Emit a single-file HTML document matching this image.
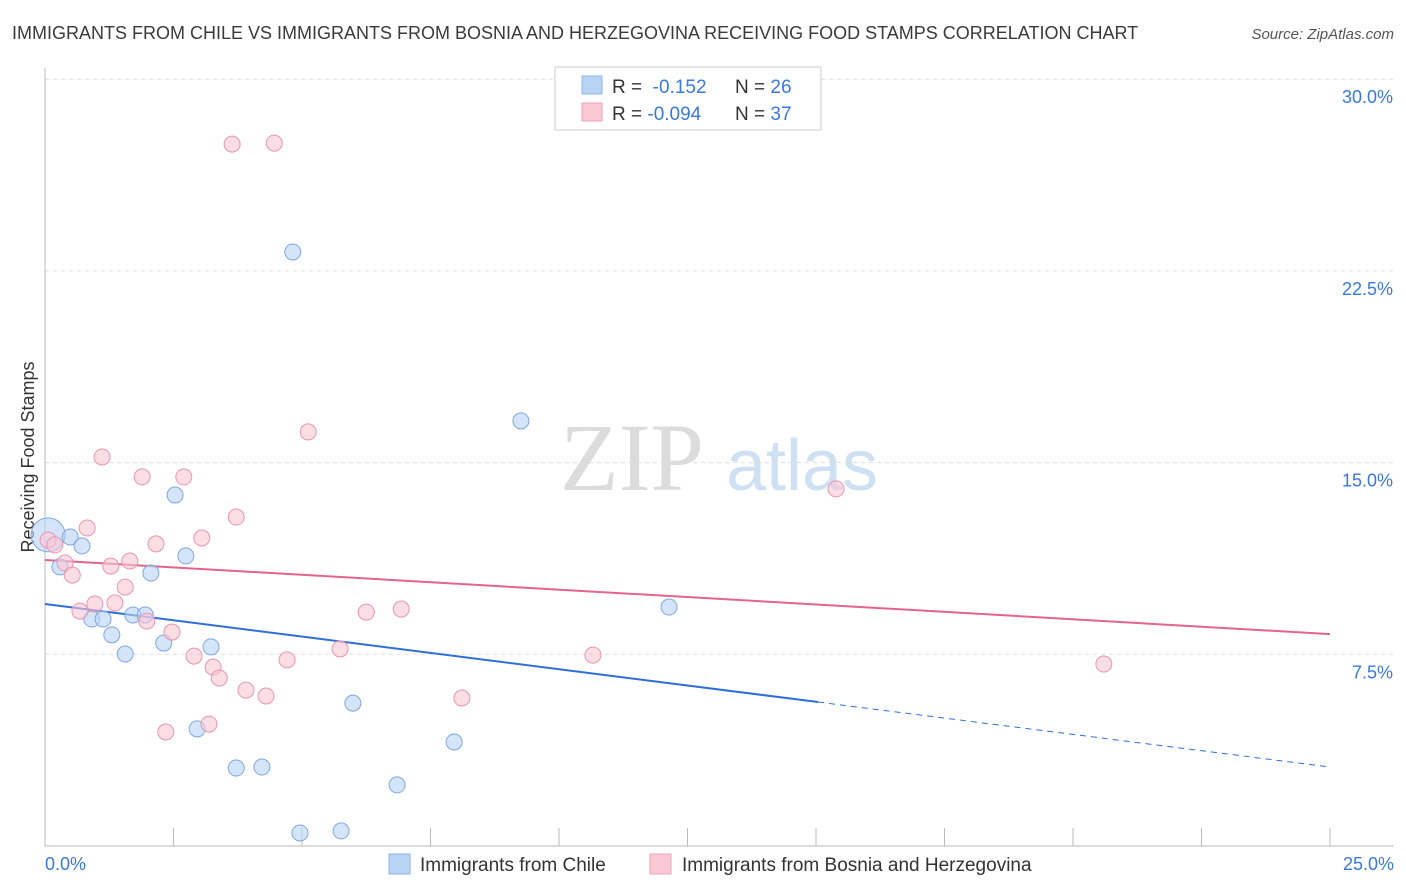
<!DOCTYPE html>
<html><head><meta charset="utf-8"><style>
body{margin:0;background:#fff;font-family:"Liberation Sans",sans-serif}
svg{display:block}
</style></head><body>
<svg id="chart" width="1406" height="892">
<text x="12" y="39" font-size="18" fill="#3a3a3a">IMMIGRANTS FROM CHILE VS IMMIGRANTS FROM BOSNIA AND HERZEGOVINA RECEIVING FOOD STAMPS CORRELATION CHART</text>
<text x="1394" y="39" font-size="15" fill="#555" text-anchor="end" font-style="italic">Source: ZipAtlas.com</text>
<g>
<text x="632" y="490" font-size="96" fill="#dcdcdc" font-family="Liberation Serif,serif" text-anchor="middle">ZIP</text>
<text x="802" y="490" font-size="72" fill="#cfe0f3" text-anchor="middle">atlas</text>
</g>
<text transform="translate(34,457) rotate(-90)" font-size="18" fill="#333" text-anchor="middle">Receiving Food Stamps</text>
<g id="grid"></g><g id="axes"></g><g id="trends"></g><g id="points"></g>
<g>
<rect x="555" y="67" width="266" height="63" fill="#fff" stroke="#ccc"/>
<rect x="582" y="76" width="20" height="18" fill="#b9d3f5" stroke="#8fb4e6"/>
<rect x="582" y="103" width="20" height="18" fill="#f9c7d6" stroke="#eea3ba"/>
<text x="612" y="93" font-size="19" fill="#333">R = <tspan fill="#3b78d8">&#160;-0.152</tspan><tspan x="735">N = </tspan><tspan fill="#3b78d8">26</tspan></text>
<text x="612" y="120" font-size="19" fill="#333">R = <tspan fill="#3b78d8">-0.094</tspan><tspan x="735">N = </tspan><tspan fill="#3b78d8">37</tspan></text>
</g>
<g>
<rect x="389" y="854" width="21" height="20" fill="#b9d3f5" stroke="#8fb4e6"/>
<text x="420" y="871" font-size="19" fill="#333">Immigrants from Chile</text>
<rect x="650" y="854" width="21" height="20" fill="#f9c7d6" stroke="#eea3ba"/>
<text x="682" y="871" font-size="19" fill="#333">Immigrants from Bosnia and Herzegovina</text>
</g>
</svg>
<script>
const xTicks=[0,25];
const yTicks=[7.5,15,22.5,30];
const yTickLabels=["7.5%","15.0%","22.5%","30.0%"];
const chileX=[0.06,0.49,0.72,0.29,0.91,1.13,1.30,1.56,2.06,1.71,1.95,2.31,2.53,2.74,3.23,2.96,3.72,4.22,4.82,4.96,5.76,5.99,6.85,7.96,9.26,12.14];
const chileY=[12.17,12.09,11.74,10.92,8.88,8.88,8.26,7.51,10.68,9.04,9.04,7.94,13.73,11.35,7.79,4.58,3.05,3.09,23.24,0.51,0.59,5.59,2.39,4.07,16.63,9.35];
const bosX=[3.64,4.46,5.12,1.11,1.89,2.70,3.72,0.82,0.06,0.19,0.39,0.53,1.28,1.65,2.16,3.05,1.56,0.97,0.68,1.36,1.98,2.47,2.90,3.27,3.39,3.91,4.30,4.71,5.74,6.25,6.93,2.35,3.19,8.11,10.66,15.39,20.60];
const bosY=[27.46,27.50,16.20,15.22,14.44,14.44,12.87,12.44,11.97,11.78,11.07,10.60,10.95,11.15,11.82,12.05,10.13,9.47,9.19,9.51,8.80,8.37,7.43,7.00,6.57,6.10,5.87,7.28,7.71,9.15,9.27,4.46,4.77,5.79,7.47,13.97,7.12];
const chileTrend=[9.47,3.09]; // y at x=0 and x=25
const chileSolidEnd=15.04;
const bosTrend=[11.19,8.29];
const NS="http://www.w3.org/2000/svg";
const X=v=>45+v/25*1285, Y=v=>846-v/7.5*191.7;
function mk(t,a,p){const e=document.createElementNS(NS,t);for(const k in a)e.setAttribute(k,a[k]);p.appendChild(e);return e;}
const grid=document.getElementById('grid'),axes=document.getElementById('axes'),tr=document.getElementById('trends'),pts=document.getElementById('points');
yTicks.forEach((t,i)=>{
 const l=mk('line',{x1:45,x2:1394,y1:Y(t),y2:Y(t),stroke:'#ddd','stroke-dasharray':'4,4'},grid);
 
 
 const tx=mk('text',{x:1393,y:Y(t)+24,'font-size':18,fill:'#3b78d8','text-anchor':'end'},axes);
 tx.textContent=yTickLabels[i];
 
 
});
mk('line',{x1:45,x2:45,y1:68,y2:846,stroke:'#bbb'},axes);
mk('line',{x1:45,x2:1394,y1:846,y2:846,stroke:'#bbb'},axes);
for(let i=0;i<=10;i++){mk('line',{x1:X(i*2.5),x2:X(i*2.5),y1:828,y2:846,stroke:'#bbb'},axes);}
xTicks.forEach((t,i)=>{
 const tx=mk('text',{x:i?1394:45,y:870,'font-size':18,fill:'#3b78d8','text-anchor':i?'end':'start'},axes);
 tx.textContent=t.toFixed(1)+'%';
 
 
});
const ty=(tv,x)=>tv[0]+(tv[1]-tv[0])*x/25;
let l1=mk('line',{x1:X(0),y1:Y(ty(chileTrend,0)),x2:X(chileSolidEnd),y2:Y(ty(chileTrend,chileSolidEnd)),stroke:'#2f6fd6','stroke-width':2},tr);


let l2=mk('line',{x1:X(chileSolidEnd),y1:Y(ty(chileTrend,chileSolidEnd)),x2:X(25),y2:Y(ty(chileTrend,25)),stroke:'#2f6fd6','stroke-width':1,'stroke-dasharray':'6,5'},tr);


let l3=mk('line',{x1:X(0),y1:Y(bosTrend[0]),x2:X(25),y2:Y(bosTrend[1]),stroke:'#e4648e','stroke-width':2},tr);


chileX.forEach((x,i)=>{
 const c=mk('circle',{cx:X(x),cy:Y(chileY[i]),r:i==0?17:8,fill:'#b9d3f5','fill-opacity':0.6,stroke:'#7fa7e0','stroke-width':1},pts);
 
 
});
bosX.forEach((x,i)=>{
 const c=mk('circle',{cx:X(x),cy:Y(bosY[i]),r:8,fill:'#f9c7d6','fill-opacity':0.6,stroke:'#e996b0','stroke-width':1},pts);
 
 
});
</script>
</body></html>
